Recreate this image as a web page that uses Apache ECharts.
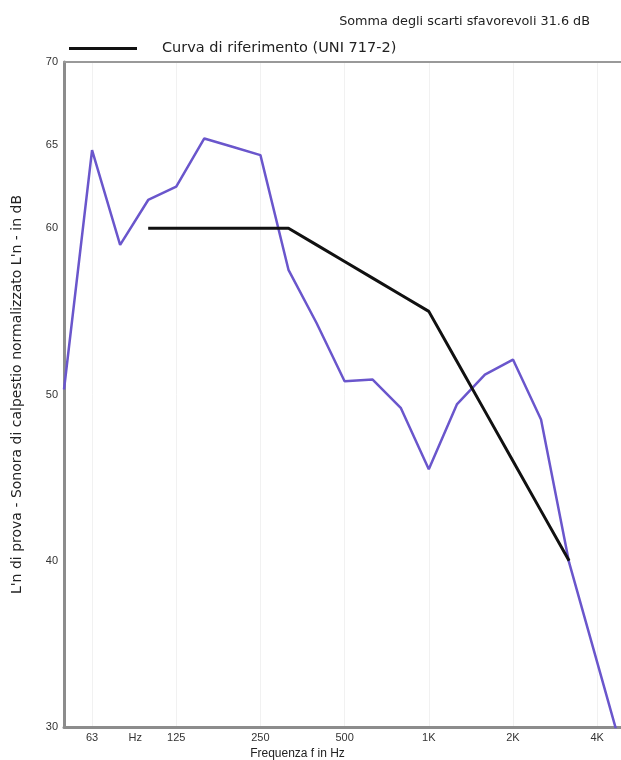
<!DOCTYPE html>
<html>
<head>
<meta charset="utf-8">
<script src="https://cdn.jsdelivr.net/npm/echarts@6/dist/echarts.min.js"></script>
<style>
    html, body { margin: 0; padding: 0; background: #fff; }
    #chart { width: 621px; height: 760px; }
</style>
</head>
<body>
<div id="chart"></div>
<script>
// bande di terzo d'ottava
var freqs = ['50', '63', '80', '100', '125', '160', '200', '250', '315', '400', '500',
    '630', '800', '1000', '1250', '1600', '2000', '2500', '3150', '4000', '5000'];
// L'n misurato
var measured = [50.3, 64.7, 59.0, 61.7, 62.5, 65.4, 64.9, 64.4, 57.5, 54.3, 50.8,
    50.9, 49.2, 45.5, 49.4, 51.2, 52.1, 48.5, 39.9, 33.9, 27.9];
// curva di riferimento traslata
var reference = [null, null, null, 60, 60, 60, 60, 60, 60, 59, 58,
    57, 56, 55, 52, 49, 46, 43, 40, null, null];
var xTickLabels = {1: '63', 3: 'Hz', 4: '125', 7: '250', 10: '500', 13: '1K', 16: '2K', 19: '4K'};
var yTickLabels = [30, 40, 50, 60, 65, 70];

var refName = 'Curva di riferimento (UNI 717-2)';
var xMax = 19.85;

var myChart = echarts.init(document.getElementById('chart'));

var option = {
    backgroundColor: '#fff',
    animation: false,
    title: {
        text: 'Somma degli scarti sfavorevoli 31.6 dB',
        right: 26,
        top: 10,
        textStyle: {fontSize: 12.8, fontWeight: 'normal', color: '#222', fontFamily: 'DejaVu Sans'}
    },
    legend: {
        data: [refName],
        left: 64,
        top: 36,
        icon: 'rect',
        itemWidth: 68,
        itemHeight: 3,
        textStyle: {fontSize: 14.5, color: '#222', padding: [0, 0, 0, 20], fontFamily: 'DejaVu Sans'}
    },
    grid: {
        left: 64,
        top: 62,
        right: 0,
        bottom: 33,
        outerBoundsMode: 'none',
        show: false
    },
    xAxis: [{
        type: 'value',
        min: 0,
        max: xMax,
        interval: 1,
        name: 'Frequenza f in Hz',
        nameLocation: 'middle',
        nameGap: 20,
        nameTextStyle: {fontSize: 12, color: '#222', fontFamily: 'Liberation Sans', padding: [0, 90, 0, 0]},
        axisLine: {lineStyle: {color: '#8c8c8c', width: 3}},
        axisTick: {show: false},
        axisLabel: {
            margin: 5,
            fontSize: 11,
            color: '#333',
            fontFamily: 'Liberation Sans',
            formatter: function (v) {
                if (v === 3) return '{hz|Hz}';
                return xTickLabels[v] || '';
            },
            rich: {hz: {fontSize: 11, color: '#333', padding: [0, 26, 0, 0]}}
        },
        splitLine: {show: true, lineStyle: {color: ['transparent', '#f1f1f1', 'transparent'], width: 1}}
    }, {
        type: 'value',
        position: 'top',
        min: 0,
        max: xMax,
        axisLine: {show: true, lineStyle: {color: '#999', width: 2}},
        axisTick: {show: false},
        axisLabel: {show: false},
        splitLine: {show: false}
    }],
    yAxis: [{
        type: 'value',
        min: 30,
        max: 70,
        interval: 5,
        name: "L'n di prova - Sonora di calpestio normalizzato L'n - in dB",
        nameLocation: 'middle',
        nameGap: 40,
        nameTextStyle: {fontSize: 14, color: '#222', fontFamily: 'DejaVu Sans'},
        axisLine: {show: true, lineStyle: {color: '#8c8c8c', width: 3}},
        axisTick: {show: false},
        axisLabel: {
            margin: 6,
            fontSize: 11,
            color: '#333',
            fontFamily: 'Liberation Sans',
            formatter: function (v) {
                return yTickLabels.indexOf(v) >= 0 ? String(v) : '';
            }
        },
        splitLine: {show: false}
    }],
    series: [
        {
            name: 'Misura',
            type: 'line',
            data: freqs.map(function (f, i) { return [i, measured[i]]; }),
            showSymbol: false,
            clip: true,
            lineStyle: {color: '#6a56cc', width: 2.5},
            itemStyle: {color: '#6a56cc'},
            z: 3
        },
        {
            name: refName,
            type: 'line',
            data: freqs.map(function (f, i) { return [i, reference[i]]; }),
            showSymbol: false,
            lineStyle: {color: '#111', width: 3},
            itemStyle: {color: '#111'},
            z: 4
        }
    ]
};

myChart.setOption(option);
</script>
</body>
</html>
